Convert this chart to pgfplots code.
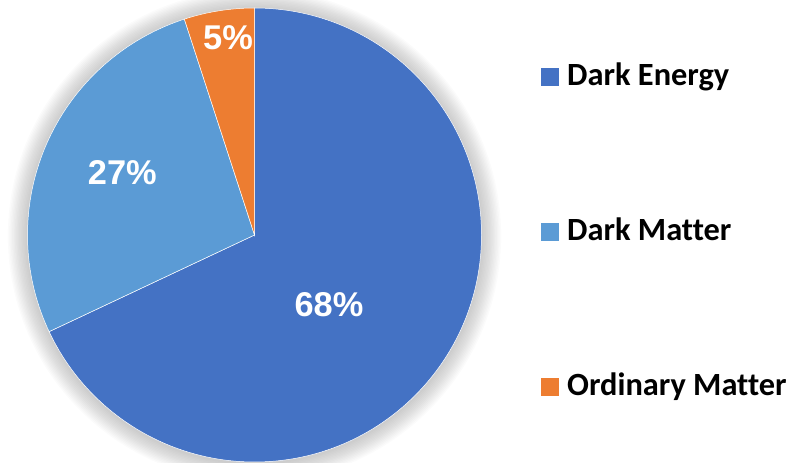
\documentclass[border=0pt]{standalone}
\usepackage{pgfplots}
\pgfplotsset{compat=1.18}
\usepackage{fontspec}
\setmainfont{Liberation Sans}
\newfontfamily\calibri[Ligatures=NoCommon]{Carlito}
\definecolor{cE}{HTML}{4472C4}
\definecolor{cM}{HTML}{5B9BD5}
\definecolor{cO}{HTML}{ED7D31}
\begin{document}
\begin{tikzpicture}
% values (percent): Dark Energy 68, Dark Matter 27, Ordinary Matter 5
\pgfmathsetmacro{\aS}{90}
\pgfmathsetmacro{\aA}{90-3.6*68}
\pgfmathsetmacro{\aB}{\aA-3.6*27}
\pgfmathsetmacro{\aC}{\aB-3.6*5}
\begin{axis}[width=804bp,height=463bp,scale only axis,
  xmin=0,xmax=804,ymin=0,ymax=463,hide axis,clip=false]
\coordinate (ll) at (axis cs:0,0);
\coordinate (ur) at (axis cs:804,463);
% soft shadow
\pgfplotsinvokeforeach{1,...,14}{
  \fill[black,opacity=0.016] (axis cs:254.5,227) circle[radius={(227+1.4*#1)*1bp}];
}
\fill[cE,draw=white,line width=0.5pt] (axis cs:254.5,228) -- ++(\aS:227bp) arc[start angle=\aS,end angle=\aA,radius=227bp] -- cycle;
\fill[cM,draw=white,line width=0.5pt] (axis cs:254.5,228) -- ++(\aA:227bp) arc[start angle=\aA,end angle=\aB,radius=227bp] -- cycle;
\fill[cO,draw=white,line width=0.5pt] (axis cs:254.5,228) -- ++(\aB:227bp) arc[start angle=\aB,end angle=\aC,radius=227bp] -- cycle;
% data labels
\node[anchor=base,inner sep=0,text=white,font=\fontsize{34.5}{35}\selectfont\bfseries] at (axis cs:329,146.5) {68\%};
\node[anchor=base,inner sep=0,text=white,font=\fontsize{34.5}{35}\selectfont\bfseries] at (axis cs:122.3,278) {27\%};
\node[anchor=base,inner sep=0,text=white,font=\fontsize{34.5}{35}\selectfont\bfseries] at (axis cs:228,413) {5\%};
% legend
\fill[cE] (axis cs:541,377) rectangle (axis cs:559,395);
\fill[cM] (axis cs:541,222) rectangle (axis cs:559,240);
\fill[cO] (axis cs:541,67) rectangle (axis cs:559,85);
\node[anchor=base west,inner sep=0,font=\calibri\fontsize{32.5}{33}\selectfont\bfseries] at (axis cs:567,377) {Dark Energy};
\node[anchor=base west,inner sep=0,font=\calibri\fontsize{32.5}{33}\selectfont\bfseries] at (axis cs:567,222) {Dark Matter};
\node[anchor=base west,inner sep=0,font=\calibri\fontsize{32.5}{33}\selectfont\bfseries] at (axis cs:567,67) {Ordinary Matter};
\end{axis}
\pgfresetboundingbox
\useasboundingbox (ll) rectangle (ur);
\end{tikzpicture}
\end{document}
